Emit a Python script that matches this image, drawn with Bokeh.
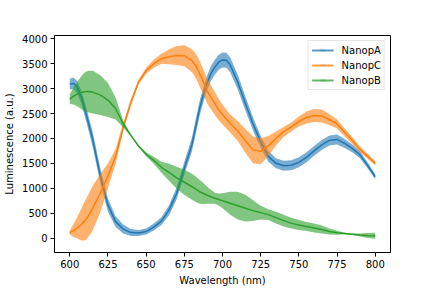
import math
from bokeh.plotting import figure
from bokeh.models import ColumnDataSource, Range1d, FixedTicker, Legend, LegendItem
from bokeh.embed import file_html
from bokeh.resources import INLINE

wavelength = [600, 602.5, 605, 607.5, 610, 612.5, 615, 620, 625, 630, 635, 640, 645, 650, 655,
              660, 665, 670, 675, 680, 682.5, 685, 687.5, 690, 692.5, 695, 697.5, 700, 702.5,
              705, 710, 715, 720, 725, 730, 735, 740, 745, 750, 755, 760, 765, 770, 775,
              780, 785, 790, 795, 800]

nanop_a = [3090, 3105, 3020, 2830, 2570, 2280, 1980, 1250, 660, 330, 180, 110, 100, 130, 220,
           340, 560, 900, 1400, 1880, 2240, 2600, 2880, 3120, 3310, 3430, 3530, 3575, 3570,
           3480, 3130, 2700, 2290, 1930, 1640, 1500, 1450, 1460, 1520, 1620, 1750, 1870, 1960, 1980,
           1900, 1800, 1670, 1460, 1230]
nanop_a_err = [110, 120, 130, 135, 140, 145, 150, 150, 130, 110, 90, 70, 60, 60, 70,
               80, 100, 120, 130, 140, 145, 150, 150, 150, 150, 150, 150, 150, 150,
               150, 150, 140, 130, 120, 110, 100, 100, 100, 100, 100, 100, 100, 100, 100,
               90, 80, 70, 60, 50]

nanop_c = [110, 150, 210, 270, 350, 460, 600, 900, 1250, 1640, 2230, 2720, 3130, 3360, 3500,
           3600, 3640, 3665, 3660, 3560, 3460, 3300, 3130, 2950, 2820, 2700, 2580, 2480, 2390,
           2300, 2150, 1950, 1770, 1740, 1850, 2000, 2130, 2230, 2340, 2420, 2460, 2450, 2380, 2290,
           2120, 1960, 1780, 1640, 1500]
nanop_c_err = [40, 130, 220, 320, 400, 430, 450, 380, 250, 150, 80, 60, 50, 60, 80,
               100, 150, 190, 210, 230, 245, 260, 255, 250, 240, 230, 215, 200, 190,
               180, 200, 240, 270, 260, 200, 140, 100, 90, 100, 120, 130, 130, 110, 90,
               80, 70, 60, 50, 40]

nanop_b = [2790, 2850, 2890, 2920, 2935, 2940, 2930, 2870, 2770, 2600, 2290, 2060, 1850, 1680, 1560,
           1420, 1320, 1210, 1120, 1030, 980, 930, 895, 860, 830, 800, 775, 750, 725,
           700, 650, 600, 550, 510, 470, 410, 350, 300, 260, 230, 200, 170, 130, 105,
           90, 75, 60, 50, 45]
nanop_b_err = [100, 170, 250, 330, 400, 420, 430, 400, 340, 220, 70, 20, 20, 40, 70,
               110, 170, 220, 250, 260, 255, 240, 210, 170, 140, 110, 120, 150, 190,
               230, 280, 270, 210, 140, 110, 120, 120, 110, 100, 90, 90, 80, 60, 40,
               15, 15, 30, 50, 60]

series_names = ["NanopA", "NanopC", "NanopB"]
x_ticks = [600, 625, 650, 675, 700, 725, 750, 775, 800]
y_ticks = [0, 500, 1000, 1500, 2000, 2500, 3000, 3500, 4000]

colors = ["#1f77b4", "#ff7f0e", "#2ca02c"]
FONT = "DejaVu Sans"

p = figure(width=432, height=288, output_backend="svg", toolbar_location=None,
           x_range=Range1d(590, 810), y_range=Range1d(-290, 4066),
           min_border_left=54, min_border_right=42, min_border_top=35, min_border_bottom=36)
p.background_fill_color = "white"
p.border_fill_color = "white"
p.xgrid.visible = False
p.ygrid.visible = False
p.outline_line_color = "black"
p.outline_line_width = 1

for ax in (p.xaxis[0], p.yaxis[0]):
    ax.axis_line_color = "black"
    ax.major_tick_line_color = "black"
    ax.minor_tick_line_color = None
    ax.major_tick_in = 0
    ax.major_tick_out = 4
    ax.major_label_standoff = 3
    ax.major_label_text_font = FONT
    ax.major_label_text_font_size = "10px"
    ax.major_label_text_color = "black"
    ax.axis_label_text_font = FONT
    ax.axis_label_text_font_size = "10px"
    ax.axis_label_text_font_style = "normal"
    ax.axis_label_text_color = "black"
    ax.axis_label_standoff = 4

p.xaxis.ticker = FixedTicker(ticks=x_ticks)
p.yaxis.ticker = FixedTicker(ticks=y_ticks)
p.xaxis.axis_label = "Wavelength (nm)"
p.yaxis.axis_label = "Luminescence (a.u.)"

items = []
for name, vals, errs, col in zip(series_names,
                                 [nanop_a, nanop_c, nanop_b],
                                 [nanop_a_err, nanop_c_err, nanop_b_err],
                                 colors):
    src = ColumnDataSource(dict(
        x=wavelength, y=vals,
        lo=[v - e for v, e in zip(vals, errs)],
        hi=[v + e for v, e in zip(vals, errs)],
    ))
    p.varea(x="x", y1="lo", y2="hi", source=src, fill_color=col, fill_alpha=0.6)
    p.line(x="x", y="y", source=src, line_color=col, line_width=1.5)
    leg_src = ColumnDataSource(dict(x=[float("nan")], y=[float("nan")]))
    lr = p.line(x="x", y="y", source=leg_src, line_color=col, line_width=2, line_alpha=0.75)
    tr = p.scatter(x="x", y="y", source=leg_src, marker="dash", angle=math.pi / 2,
                   size=10, line_color=col, line_alpha=0.3, line_width=2)
    items.append(LegendItem(label=name, renderers=[lr, tr]))

legend = Legend(items=items, location="top_right")
legend.margin = 5
legend.padding = 3
legend.spacing = 3
legend.glyph_height = 12
legend.label_height = 12
legend.glyph_width = 22
legend.label_standoff = 8
legend.label_text_font = FONT
legend.label_text_font_size = "10px"
legend.label_text_color = "black"
legend.border_line_color = "#cccccc"
legend.border_line_width = 1
legend.background_fill_alpha = 0.8
p.add_layout(legend)

open("out.html", "w").write(file_html(p, INLINE))
